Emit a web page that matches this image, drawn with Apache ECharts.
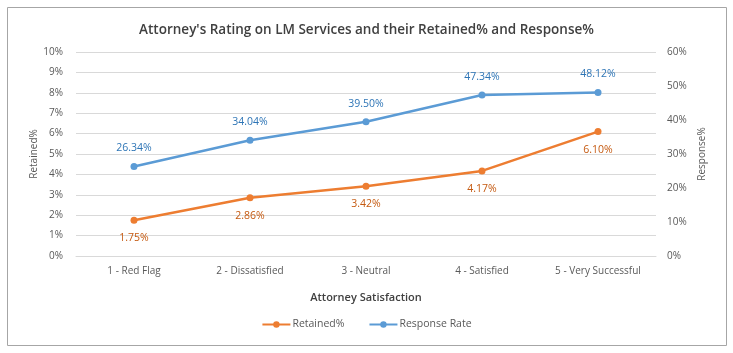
<!DOCTYPE html>
<html>
<head>
<meta charset="utf-8">
<script src="https://cdn.jsdelivr.net/npm/echarts@6/dist/echarts.min.js"></script>
<style>
  html, body { margin: 0; padding: 0; background: #fff; }
  #main { width: 733px; height: 353px; }
</style>
</head>
<body>
<div id="main"></div>
<script>
// data
var categories = ['1 - Red Flag', '2 - Dissatisfied', '3 - Neutral', '4 - Satisfied', '5 - Very Successful'];
var retained = [1.75, 2.86, 3.42, 4.17, 6.10];
var responseRate = [26.34, 34.04, 39.50, 47.34, 48.12];

var font = '"Open Sans", "Noto Sans", sans-serif';
var axisGray = '#595959';

var chart = echarts.init(document.getElementById('main'));
chart.setOption({
  backgroundColor: '#fff',
  textStyle: { fontFamily: font },
  graphic: [{
    type: 'rect',
    shape: { x: 7.5, y: 7.5, width: 719, height: 338 },
    style: { fill: 'none', stroke: '#a6a6a6', lineWidth: 1 },
    silent: true
  }],
  title: {
    text: "Attorney's Rating on LM Services and their Retained% and Response%",
    left: 'center',
    top: 18,
    textStyle: { fontFamily: font, fontSize: 13.5, fontWeight: 600, color: '#404040' }
  },
  legend: {
    bottom: 18,
    left: 'center',
    itemWidth: 28,
    itemHeight: 8,
    itemGap: 24,
    textStyle: { fontFamily: font, fontSize: 10.5, color: axisGray, padding: [0, 0, 0, -3] },
    data: ['Retained%', 'Response Rate']
  },
  grid: { left: 76, right: 77, top: 52, bottom: 97, containLabel: false },
  xAxis: {
    type: 'category',
    data: categories,
    boundaryGap: true,
    name: 'Attorney Satisfaction',
    nameLocation: 'middle',
    nameGap: 36,
    nameTextStyle: { fontFamily: font, fontSize: 11, fontWeight: 600, color: '#404040' },
    axisLine: { lineStyle: { color: '#d9d9d9' } },
    axisTick: { show: false },
    axisLabel: { fontFamily: font, fontSize: 10, color: axisGray, margin: 10 }
  },
  yAxis: [{
    type: 'value',
    min: 0, max: 10, interval: 1,
    name: 'Retained%',
    nameLocation: 'middle',
    nameGap: 37,
    nameMoveOverlap: false,
    nameTextStyle: { fontFamily: font, fontSize: 10, color: axisGray },
    axisLine: { show: false },
    axisTick: { show: false },
    splitLine: { lineStyle: { color: '#d9d9d9' } },
    axisLabel: { fontFamily: font, fontSize: 10, color: axisGray, margin: 13, formatter: '{value}%' }
  }, {
    type: 'value',
    min: 0, max: 60, interval: 10,
    name: 'Response%',
    nameLocation: 'middle',
    nameGap: 41,
    nameMoveOverlap: false,
    nameRotate: 90,
    nameTextStyle: { fontFamily: font, fontSize: 10, color: axisGray },
    axisLine: { show: false },
    axisTick: { show: false },
    splitLine: { show: false },
    axisLabel: { fontFamily: font, fontSize: 10, color: axisGray, margin: 11, formatter: '{value}%' }
  }],
  series: [{
    name: 'Retained%',
    type: 'line',
    yAxisIndex: 0,
    data: retained,
    symbol: 'circle',
    symbolSize: 7,
    color: '#ED7D31',
    lineStyle: { width: 2.5, color: '#ED7D31' },
    label: {
      show: true,
      position: 'bottom',
      distance: 9,
      fontFamily: font,
      fontSize: 10.5,
      color: '#C55A11',
      formatter: function (p) { return p.value.toFixed(2) + '%'; }
    }
  }, {
    name: 'Response Rate',
    type: 'line',
    yAxisIndex: 1,
    data: responseRate,
    symbol: 'circle',
    symbolSize: 7,
    color: '#5B9BD5',
    lineStyle: { width: 2.5, color: '#5B9BD5' },
    label: {
      show: true,
      position: 'top',
      distance: 9,
      fontFamily: font,
      fontSize: 10.5,
      color: '#2E75B6',
      formatter: function (p) { return p.value.toFixed(2) + '%'; }
    }
  }]
});
</script>
</body>
</html>
